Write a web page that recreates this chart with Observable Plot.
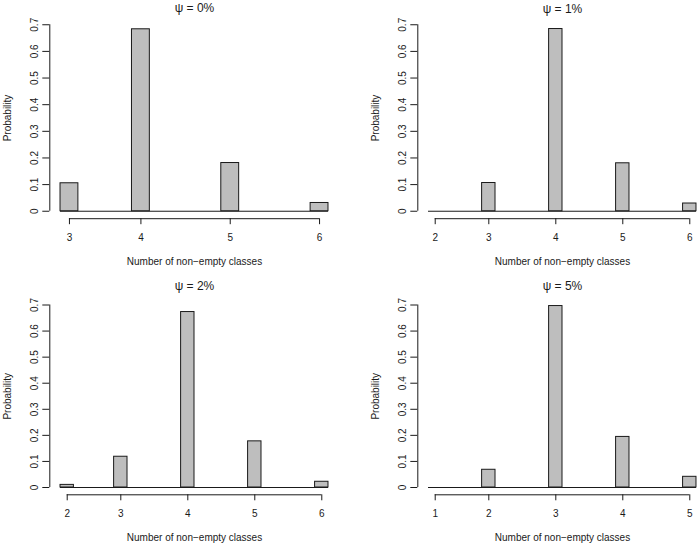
<!DOCTYPE html>
<html>
<head>
<meta charset="utf-8">
<script src="https://cdn.jsdelivr.net/npm/d3@7"></script>
<script src="https://cdn.jsdelivr.net/npm/@observablehq/plot@0.6"></script>
<style>
  html, body { margin: 0; padding: 0; background: #fff; }
  #wrap { position: relative; width: 700px; height: 546px; overflow: hidden; background: #fff; }
  #wrap > svg, #wrap > figure { position: absolute; margin: 0; }
</style>
</head>
<body>
<div id="wrap"></div>
<script>
// ---- data ----
const titles = ["ψ = 0%", "ψ = 1%", "ψ = 2%", "ψ = 5%"];
const classes0 = [3, 4, 5, 6];
const prob0 = [0.105, 0.683, 0.181, 0.031];
const classes1 = [2, 3, 4, 5, 6];
const prob1 = [0, 0.106, 0.684, 0.180, 0.029];
const classes2 = [2, 3, 4, 5, 6];
const prob2 = [0.010, 0.118, 0.673, 0.177, 0.022];
const classes5 = [1, 2, 3, 4, 5];
const prob5 = [0, 0.068, 0.696, 0.194, 0.041];
const yTicks = [0, 0.1, 0.2, 0.3, 0.4, 0.5, 0.6, 0.7];
const yTickLabels = ["0", "0.1", "0.2", "0.3", "0.4", "0.5", "0.6", "0.7"];
const xLabel = "Number of non\u2212empty classes";
const yLabel = "Probability";

// ---- layout (positions only) ----
const layout = [
  {left: 0,   top: 0,   width: 350, mL: 49.3, mR: 11.3, mT: 16.8, mB: 54.8, titleDy: -8.8},
  {left: 350, top: 0,   width: 360, mL: 67.3, mR: 3.3,  mT: 16.8, mB: 54.8, titleDy: -8.5},
  {left: 0,   top: 273, width: 350, mL: 49.3, mR: 11.3, mT: 24.2, mB: 51.7, titleDy: -11.9},
  {left: 350, top: 273, width: 360, mL: 67.3, mR: 3.3,  mT: 24.2, mB: 51.7, titleDy: -11.9}
];
const panels = [
  {classes: classes0, prob: prob0},
  {classes: classes1, prob: prob1},
  {classes: classes2, prob: prob2},
  {classes: classes5, prob: prob5}
];

const wrap = document.getElementById("wrap");
const fill = "#bebebe", ink = "#1a1a1a";

panels.forEach((p, i) => {
  const L = layout[i];
  const lo = d3.min(p.classes), hi = d3.max(p.classes), r = hi - lo;
  // histogram bins of width 0.2, right-closed (first bin includes its lower edge)
  const rows = p.classes.map((k, j) => {
    const x1 = k === lo ? lo : k - 0.2;
    return {k, x1, x2: x1 + 0.2, mid: x1 + 0.1, prob: p.prob[j]};
  });
  const centers = rows.map(d => d.mid);
  const yMin = -0.04 * 0.7, yMax = 0.7 + 0.04 * 0.7;
  const xMin = lo - 0.04 * r;

  const chart = Plot.plot({
    width: L.width,
    height: 273,
    marginLeft: L.mL, marginRight: L.mR, marginTop: L.mT, marginBottom: L.mB,
    style: {fontFamily: "'Liberation Sans', Arial, Helvetica, sans-serif", fontSize: "10px", color: ink, background: "transparent"},
    x: {domain: [xMin, hi + 0.04 * r], axis: null},
    y: {domain: [yMin, yMax], axis: null},
    marks: [
      // baseline for empty bins
      Plot.ruleY([0], {x1: lo, x2: hi, stroke: ink, strokeWidth: 1}),
      Plot.rectY(rows.filter(d => d.prob > 0), {x1: "x1", x2: "x2", y: "prob", fill, stroke: ink, strokeWidth: 1}),
      // y axis
      Plot.ruleX([xMin], {y1: 0, y2: 0.7, stroke: ink}),
      Plot.axisY({ticks: yTicks, tickSize: 7, tickFormat: d => yTickLabels[yTicks.indexOf(d)], tickRotate: -90, tickPadding: 5, fontSize: 10, label: null, stroke: ink, fill: ink}),
      // x axis
      Plot.ruleY([yMin], {x1: d3.min(centers), x2: d3.max(centers), stroke: ink}),
      Plot.axisX({ticks: centers, tickSize: 6, tickPadding: 9, tickFormat: d => String(rows[centers.indexOf(d)].k), fontSize: 10, label: null, stroke: ink, fill: ink}),
      // titles / labels
      Plot.text([titles[i]], {frameAnchor: "top", dy: L.titleDy, lineAnchor: "middle", fontSize: 12, fill: ink}),
      Plot.text([xLabel], {frameAnchor: "bottom", dy: 43, lineAnchor: "middle", fontSize: 10, fill: ink}),
      Plot.text([yLabel], {frameAnchor: "left", dx: -42, rotate: -90, lineAnchor: "middle", textAnchor: "middle", fontSize: 10, fill: ink})
    ]
  });
  chart.style.left = L.left + "px";
  chart.style.top = L.top + "px";
  wrap.appendChild(chart);
});
</script>
</body>
</html>
